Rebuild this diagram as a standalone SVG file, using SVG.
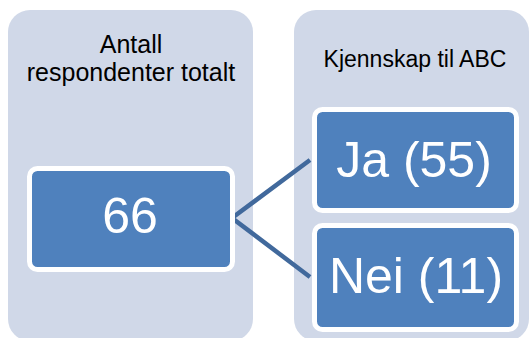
<svg xmlns="http://www.w3.org/2000/svg" width="529" height="338" viewBox="0 0 529 338">
<style>
.panel{fill:#d0d8e8}
.node{fill:#4f81bd;stroke:#ffffff;stroke-width:5}
.hdr{font-family:"Liberation Sans",Arial,sans-serif;fill:#000;text-anchor:middle}
.big{font-family:"Liberation Sans",Arial,sans-serif;fill:#fff;font-size:50px;text-anchor:middle}
.conn{stroke:#41699c;stroke-width:4.5;fill:none}
</style>
<rect width="529" height="338" fill="#ffffff"/>
<g id="panel-left">
<rect class="panel" x="8" y="10" width="245" height="331" rx="22"/>
<text class="hdr" x="131" y="53" font-size="25">Antall</text>
<text class="hdr" x="131" y="81" font-size="25">respondenter totalt</text>
</g>
<g id="panel-right">
<rect class="panel" x="294" y="10" width="235" height="331" rx="22"/>
<text class="hdr" x="415" y="67" font-size="23">Kjennskap til ABC</text>
</g>
<g id="connectors">
<polyline class="conn" points="310,160 232,218 310,277" stroke-linejoin="miter"/>
</g>
<g id="node-66">
<rect class="node" x="29.5" y="168.5" width="203" height="101" rx="8"/>
<text class="big" x="130" y="233">66</text>
</g>
<g id="node-ja">
<rect class="node" x="314.5" y="109.5" width="202" height="101" rx="8"/>
<text class="big" x="414" y="177">Ja (55)</text>
</g>
<g id="node-nei">
<rect class="node" x="314.5" y="225.5" width="202" height="104" rx="8"/>
<text class="big" x="416" y="293">Nei (11)</text>
</g>
</svg>
